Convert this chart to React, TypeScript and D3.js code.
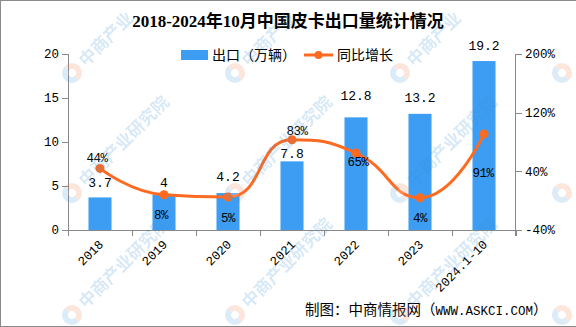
import React from 'react';
import * as d3 from 'd3';

const categories = ['2018', '2019', '2020', '2021', '2022', '2023', '2024.1-10'];
const exportVolume = [3.7, 4, 4.2, 7.8, 12.8, 13.2, 19.2];
const yoyGrowth = [44, 8, 5, 83, 65, 4, 91];
const leftTicks = [0, 5, 10, 15, 20];
const rightTicks = [-40, 40, 120, 200];
const title = '2018-2024年10月中国皮卡出口量统计情况';
const legendBar = '出口（万辆）';
const legendLine = '同比增长';
const sourcePrefix = '制图：中商情报网（';
const sourceSite = 'WWW.ASKCI.COM';
const sourceSuffix = '）';
const watermarkText = '中商产业研究院';
const watermarkTextTop = '中商产业';

// label placement (style, not data)
const barLabelDy = [-10.5, -8, -12, -3.5, -17, -12, -11];
const lineLabelDy = [-6, 24, 25, -5, 13, 24, 43];
const lineLabelDx = [-3, -3, 0, 5, 2, 0, -1];

const W = 576, H = 327;
const X0 = 68, X1 = 516, Y0 = 230, YT = 54;
const BLUE = '#3d9df2';
const ORANGE = '#ff6a21';
const MONO = "'Liberation Mono', 'DejaVu Sans Mono', 'Noto Sans CJK SC', monospace";
const CJK = "'Noto Sans CJK SC', 'Liberation Mono', sans-serif";

function echartsSmooth(pts: [number, number][], smooth = 0.5): string {
  let d = `M${pts[0][0]},${pts[0][1]}`;
  let cpx0 = pts[0][0], cpy0 = pts[0][1];
  let prevX = pts[0][0], prevY = pts[0][1];
  const clamp = (v: number, a: number, b: number) => Math.max(Math.min(a, b), Math.min(Math.max(a, b), v));
  for (let k = 1; k < pts.length; k++) {
    const [x, y] = pts[k];
    let cpx1: number, cpy1: number, nx = x, ny = y;
    if (k === pts.length - 1) {
      cpx1 = x; cpy1 = y;
    } else {
      const [nextX, nextY] = pts[k + 1];
      let vx = nextX - prevX, vy = nextY - prevY;
      const lenPrev = Math.hypot(x - prevX, y - prevY);
      const lenNext = Math.hypot(nextX - x, nextY - y);
      const ratio = lenNext / (lenNext + lenPrev);
      nx = clamp(x + vx * smooth * ratio, x, nextX);
      ny = clamp(y + vy * smooth * ratio, y, nextY);
      vx = nx - x; vy = ny - y;
      cpx1 = clamp(x - vx * lenPrev / lenNext, prevX, x);
      cpy1 = clamp(y - vy * lenPrev / lenNext, prevY, y);
      vx = x - cpx1; vy = y - cpy1;
      nx = x + vx * lenNext / lenPrev;
      ny = y + vy * lenNext / lenPrev;
    }
    d += ` C${cpx0},${cpy0} ${cpx1},${cpy1} ${x},${y}`;
    cpx0 = nx; cpy0 = ny; prevX = x; prevY = y;
  }
  return d;
}

function Logo() {
  return (
    <g>
      <path d="M0,-10 A10,10 0 0,0 0,10 Z" fill="#4a9ad6" />
      <path d="M0,-10 A10,10 0 0,1 0,10 Z" fill="#f08050" />
      <circle r={4} fill="#fff" />
    </g>
  );
}

export default function App() {
  const x = d3.scaleBand<string>().domain(categories).range([X0, X1]).padding(0);
  const yL = d3.scaleLinear().domain([0, 20]).range([Y0, YT]);
  const yR = d3.scaleLinear().domain([-40, 200]).range([Y0, YT]);
  const bw = x.bandwidth() * 0.36;
  const cx = (c: string) => (x(c) as number) + x.bandwidth() / 2;
  const pts: [number, number][] = categories.map((c, i) => [cx(c), yR(yoyGrowth[i])]);
  const linePath = echartsSmooth(pts, 0.5);
  const boundaries = d3.range(categories.length + 1).map(i => X0 + i * x.bandwidth());

  const wmX = [72, 235, 400];
  const wmY = [73, 193, 315];

  return (
    <svg width={W} height={H} style={{ position: 'fixed', left: 0, top: 0, background: '#fff' }}>
      <rect x={0} y={0} width={W} height={H} fill="#fff" />
      {/* frame */}
      <line x1={0.5} y1={0} x2={0.5} y2={H} stroke="#8a8a8a" strokeWidth={1} />
      <line x1={0} y1={0.5} x2={W} y2={0.5} stroke="#8a8a8a" strokeWidth={1} />
      <line x1={0} y1={H - 0.5} x2={W} y2={H - 0.5} stroke="#8a8a8a" strokeWidth={1} />

      {/* title */}
      <text x={288} y={27} textAnchor="middle" fontSize={17} fontWeight="bold"
        fontFamily="'Liberation Serif', 'Noto Sans CJK SC', serif" fill="#000">{title}</text>

      {/* legend */}
      <rect x={181} y={50} width={27} height={10} fill={BLUE} />
      <text x={212} y={60} fontSize={14} fontFamily={CJK} fill="#000">{legendBar}</text>
      <line x1={304} y1={55} x2={333} y2={55} stroke={ORANGE} strokeWidth={3} />
      <circle cx={318.5} cy={55} r={4} fill={ORANGE} />
      <text x={337} y={60} fontSize={14} fontFamily={CJK} fill="#000">{legendLine}</text>

      {/* bars */}
      {categories.map((c, i) => (
        <rect key={c} x={cx(c) - bw / 2} y={yL(exportVolume[i])} width={bw}
          height={Y0 - yL(exportVolume[i])} fill={BLUE} />
      ))}

      {/* axes */}
      <g stroke="#888" strokeWidth={1} fill="none">
        <line x1={X0 + 0.5} y1={YT} x2={X0 + 0.5} y2={Y0 + 6} />
        {leftTicks.map(t => (
          <line key={t} x1={X0 - 6} y1={Math.round(yL(t)) + 0.5} x2={X0} y2={Math.round(yL(t)) + 0.5} />
        ))}
        <line x1={X1 - 0.5} y1={YT} x2={X1 - 0.5} y2={Y0 + 6} />
        {rightTicks.map(t => (
          <line key={t} x1={X1} y1={Math.round(yR(t)) + 0.5} x2={X1 + 6} y2={Math.round(yR(t)) + 0.5} />
        ))}
        <line x1={X0} y1={Y0 + 0.5} x2={X1} y2={Y0 + 0.5} />
        {boundaries.map(b => (
          <line key={b} x1={Math.round(b) + 0.5} y1={Y0} x2={Math.round(b) + 0.5} y2={Y0 + 6} />
        ))}
      </g>
      {leftTicks.map(t => (
        <text key={t} x={X0 - 9} y={yL(t)} dy="0.35em" textAnchor="end" fontSize={12.5}
          fontFamily={MONO} fill="#000">{t}</text>
      ))}
      {rightTicks.map(t => (
        <text key={t} x={X1 + 9} y={yR(t)} dy="0.35em" textAnchor="start" fontSize={12.5}
          fontFamily={MONO} fill="#000">{t + '%'}</text>
      ))}
      {categories.map(c => (
        <text key={c} transform={`translate(${cx(c) + 1},${Y0 + 12}) rotate(-45)`} textAnchor="end"
          dy="0.35em" fontSize={12.5} fontFamily={MONO} fill="#000">{c}</text>
      ))}

      {/* line */}
      <path d={linePath} fill="none" stroke={ORANGE} strokeWidth={3} />
      {pts.map((p, i) => (
        <circle key={i} cx={p[0]} cy={p[1]} r={4.5} fill={ORANGE} />
      ))}

      {/* labels */}
      {categories.map((c, i) => (
        <text key={c} x={cx(c)} y={yL(exportVolume[i]) + barLabelDy[i]} textAnchor="middle"
          fontSize={13} fontFamily={MONO} fill="#000">{String(exportVolume[i])}</text>
      ))}
      {pts.map((p, i) => (
        <text key={i} x={p[0] + lineLabelDx[i]} y={p[1] + lineLabelDy[i]} textAnchor="middle"
          fontSize={12.5} fontFamily={MONO} fill="#000" letterSpacing={-0.5}>{yoyGrowth[i] + '%'}</text>
      ))}

      {/* source */}
      <text x={305} y={315} fill="#000">
        <tspan fontSize={14.5} fontFamily={CJK}>{sourcePrefix}</tspan>
        <tspan fontSize={12.5} fontFamily={MONO}>{sourceSite}</tspan>
        <tspan fontSize={14.5} fontFamily={CJK}>{sourceSuffix}</tspan>
      </text>

      {/* watermark */}
      <g opacity={0.2} pointerEvents="none">
        {wmX.flatMap(wx => wmY.map(wy => (
          <g key={`${wx}-${wy}`} transform={`translate(${wx},${wy}) rotate(-45)`}>
            <Logo />
            <text x={14} y={0} dy="0.35em" fontSize={17} fontWeight="bold" fontFamily={CJK} fill="#3a8fd0">
              {wy === wmY[0] ? watermarkTextTop : watermarkText}
            </text>
          </g>
        )))}
        {wmY.map(wy => (
          <g key={`r-${wy}`} transform={`translate(562,${wy}) rotate(-45)`}>
            <Logo />
          </g>
        ))}
      </g>
    </svg>
  );
}
